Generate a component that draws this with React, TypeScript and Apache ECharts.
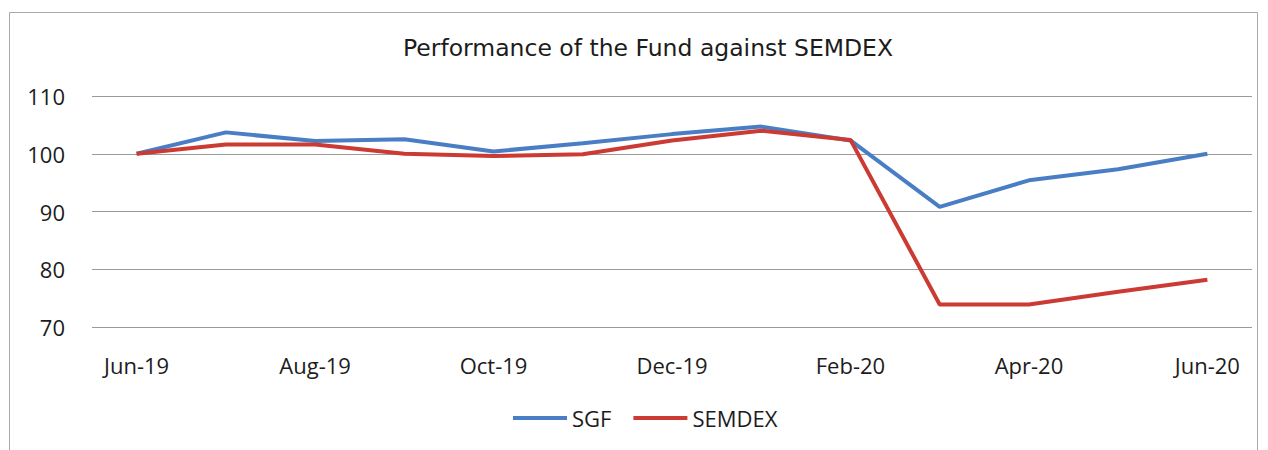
import React, { useEffect, useRef } from "react";
import * as echarts from "echarts";

const categories = ["Jun-19", "Jul-19", "Aug-19", "Sep-19", "Oct-19", "Nov-19", "Dec-19", "Jan-20", "Feb-20", "Mar-20", "Apr-20", "May-20", "Jun-20"];
const sgf = [100, 103.7, 102.2, 102.5, 100.4, 101.8, 103.4, 104.7, 102.3, 90.8, 95.4, 97.3, 100];
const semdex = [100, 101.6, 101.6, 100.0, 99.6, 99.9, 102.3, 104.0, 102.4, 73.9, 73.9, 76.1, 78.2];
const yTicks = [70, 80, 90, 100, 110];
const title = "Performance of the Fund against SEMDEX";

const FONT = "'Open Sans', 'Liberation Sans', sans-serif";
const TEXT = "#1c1c1c";

export default function App() {
  const ref = useRef<HTMLDivElement>(null);
  useEffect(() => {
    if (!ref.current) return;
    const chart = echarts.init(ref.current, null, { renderer: "svg" });
    chart.setOption({
      animation: false,
      backgroundColor: "#ffffff",
      title: {
        text: title,
        left: 643,
        textAlign: "center",
        top: 31,
        textStyle: { fontFamily: "'DejaVu Sans', sans-serif", fontSize: 23.5, fontWeight: "normal", color: TEXT },
      },
      graphic: [
        {
          type: "rect",
          shape: { x: 9.5, y: 12.5, width: 1248, height: 460 },
          style: { fill: "none", stroke: "#a8a8a8", lineWidth: 1 },
          silent: true,
        },
      ],
      legend: {
        top: 402,
        left: 508,
        itemWidth: 54,
        itemHeight: 4,
        itemGap: 22,
        icon: "rect",
        textStyle: { fontFamily: FONT, fontSize: 22, color: TEXT },
        data: ["SGF", "SEMDEX"],
      },
      grid: { left: 92, right: 16, top: 96, bottom: 123, containLabel: false },
      xAxis: {
        type: "category",
        data: categories,
        boundaryGap: true,
        axisLine: { show: false },
        axisTick: { show: false },
        axisLabel: {
          interval: 1,
          margin: 27,
          fontFamily: FONT,
          fontSize: 22,
          color: TEXT,
        },
      },
      yAxis: {
        type: "value",
        min: yTicks[0],
        max: yTicks[yTicks.length - 1],
        interval: 10,
        axisLine: { show: false },
        axisTick: { show: false },
        axisLabel: { margin: 27, fontFamily: FONT, fontSize: 22, color: TEXT },
        splitLine: { lineStyle: { color: "#9a9a9a", width: 1 } },
      },
      series: [
        {
          name: "SGF",
          type: "line",
          data: sgf,
          symbol: "none",
          lineStyle: { color: "#4a7ec4", width: 4 },
          itemStyle: { color: "#4a7ec4" },
          z: 3,
        },
        {
          name: "SEMDEX",
          type: "line",
          data: semdex,
          symbol: "none",
          lineStyle: { color: "#cc3a34", width: 4 },
          itemStyle: { color: "#cc3a34" },
          z: 4,
        },
      ],
    });
    return () => chart.dispose();
  }, []);
  return (
    <div
      ref={ref}
      style={{ position: "fixed", left: 0, top: 0, width: 1268, height: 450 }}
    />
  );
}
